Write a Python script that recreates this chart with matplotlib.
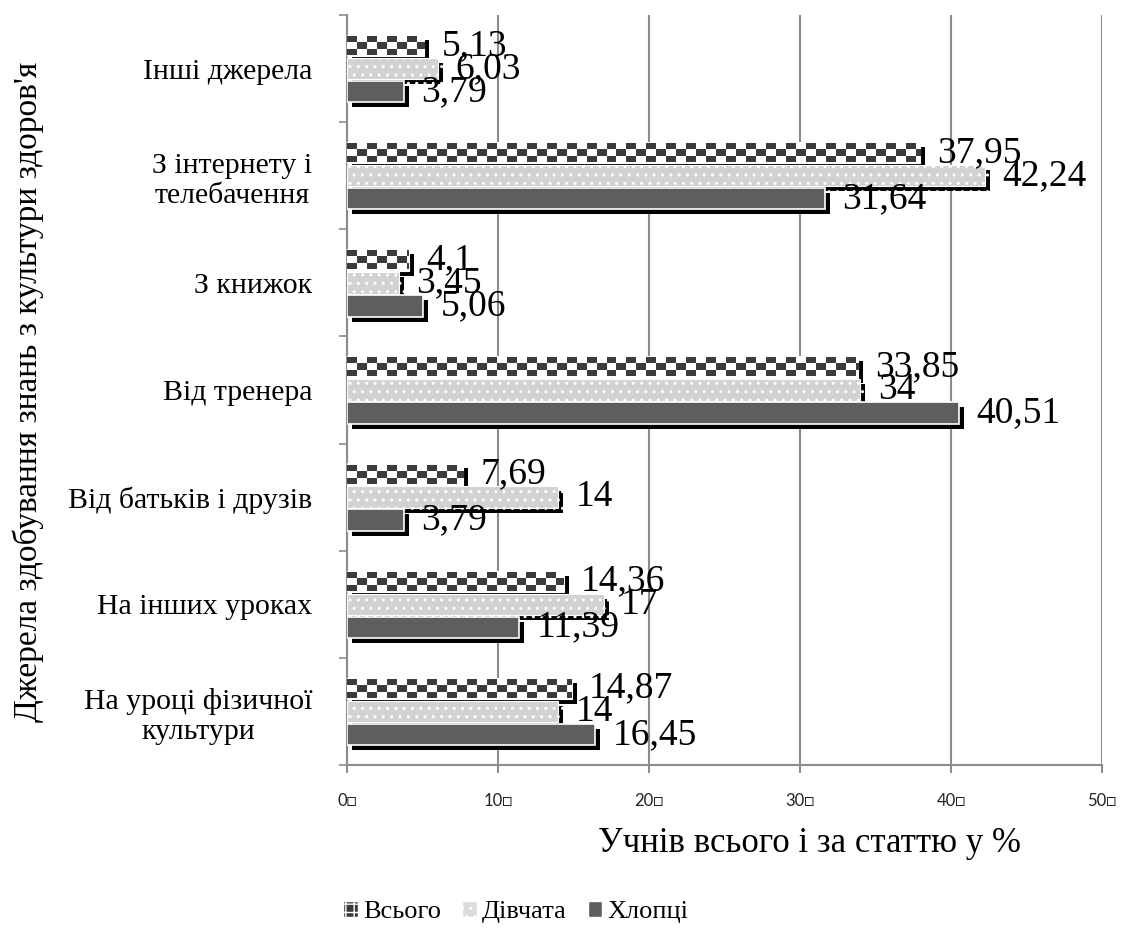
import numpy as np
import matplotlib
matplotlib.use("Agg")
import matplotlib.pyplot as plt
from matplotlib.patches import Patch
from matplotlib.font_manager import FontProperties
import matplotlib.patheffects as pe

# Data (bottom category first)
categories = ["На уроці фізичної\nкультури", "На інших уроках", "Від батьків і друзів",
              "Від тренера", "З книжок", "З інтернету і\nтелебачення", "Інші джерела"]
total = [14.87, 14.36, 7.69, 33.85, 4.1, 37.95, 5.13]
girls = [14, 17, 14, 34, 3.45, 42.24, 6.03]
boys = [16.45, 11.39, 3.79, 40.51, 5.06, 31.64, 3.79]
series_names = ["Всього", "Дівчата", "Хлопці"]
xticks = [0, 10, 20, 30, 40, 50]
xtick_labels = [f"{v}\u25a1" for v in xticks]

serif = ["Liberation Serif", "DejaVu Serif"]
plt.rcParams["hatch.color"] = "white"

fig = plt.figure(figsize=(11.34, 9.30), dpi=100)
ax = fig.add_axes([347 / 1134, 1 - 765 / 930, (1102 - 347) / 1134, 750 / 930])

y = np.arange(len(categories))
h = 0.2
offs = [0.215, 0.0, -0.215]
shadow = [pe.SimplePatchShadow(offset=(3.6, -3.6), shadow_rgbFace="black", alpha=1.0), pe.Normal()]

dark = "#3b3b3b"
cell_w = 0.66  # data units per checker cell


def fmt(v):
    s = f"{v:g}"
    return s.replace(".", ",")


for si, (vals, off) in enumerate(zip([total, girls, boys], offs)):
    for i, v in enumerate(vals):
        yc = y[i] + off
        if si == 0:
            bar = ax.barh(yc, v, height=h, color="white", edgecolor="white", linewidth=0.8, zorder=3 + si)[0]
            bar.set_path_effects(shadow)
            n = int(np.ceil(v / cell_w))
            grid = np.zeros((3, n))
            for r in range(3):
                for c in range(n):
                    grid[r, c] = 1.0 if (r + c) % 2 == 0 else 0.0
            img = ax.imshow(grid, cmap=matplotlib.colors.ListedColormap(["white", dark]),
                            extent=(0, n * cell_w, yc - h / 2 + 0.012, yc + h / 2 - 0.012),
                            aspect="auto", interpolation="nearest", zorder=3.5 + si, origin="upper")
            img.set_clip_path(bar)
        elif si == 1:
            bar = ax.barh(yc, v, height=h, color="#d2d2d2", edgecolor="white", linewidth=0.8,
                          hatch="..", zorder=3 + si)[0]
            bar.set_path_effects(shadow)
        else:
            bar = ax.barh(yc, v, height=h, color="#5e5e5e", edgecolor="white", linewidth=1.2,
                          zorder=3 + si)[0]
            bar.set_path_effects(shadow)
        ax.text(v + 1.15, yc, fmt(v), ha="left", va="center", fontsize=27,
                family=serif, zorder=10)

ax.set_xlim(0, 50)
ax.set_ylim(-0.5, len(categories) - 0.5)
ax.set_xticks(xticks)
ax.set_xticklabels(xtick_labels, family=["Lato", "DejaVu Sans"], fontsize=12, color="#222222")
ax.set_yticks(y)
ax.set_yticklabels(categories, family=serif, fontsize=21.5, multialignment="center")
ax.set_yticks(np.arange(-0.5, len(categories), 1), minor=True)
ax.tick_params(axis="y", which="major", length=0, pad=25)
ax.tick_params(axis="y", which="minor", length=6, color="#8c8c8c", width=1.2)
ax.tick_params(axis="x", length=6, color="#8c8c8c", width=1.5, pad=14)

ax.grid(axis="x", color="#8c8c8c", linewidth=1.5, zorder=0)
ax.set_axisbelow(True)
for s in ["top", "right"]:
    ax.spines[s].set_visible(False)
for s in ["left", "bottom"]:
    ax.spines[s].set_color("#8c8c8c")
    ax.spines[s].set_linewidth(1.5)

fig.text(810 / 1134, 1 - 843 / 930, "Учнів всього і за статтю у %", ha="center", va="center",
         fontsize=25, family=serif)
fig.text(28 / 1134, 1 - 392 / 930, "Джерела здобування знань з культури здоров'я", ha="center",
         va="center", rotation=90, fontsize=24, family=serif)

handles = [Patch(facecolor=dark, edgecolor="white", hatch="++"),
           Patch(facecolor="#dcdcdc", edgecolor="white", hatch=".."),
           Patch(facecolor="#5e5e5e", edgecolor="white")]
leg = fig.legend(handles, series_names, loc="center", bbox_to_anchor=(516 / 1134, 1 - 912 / 930),
                 ncol=3, frameon=False, handlelength=0.55, handleheight=0.55, handletextpad=0.2,
                 columnspacing=0.8, prop=FontProperties(family=serif, size=19))

fig.savefig("out.png", dpi=100, facecolor="white")
